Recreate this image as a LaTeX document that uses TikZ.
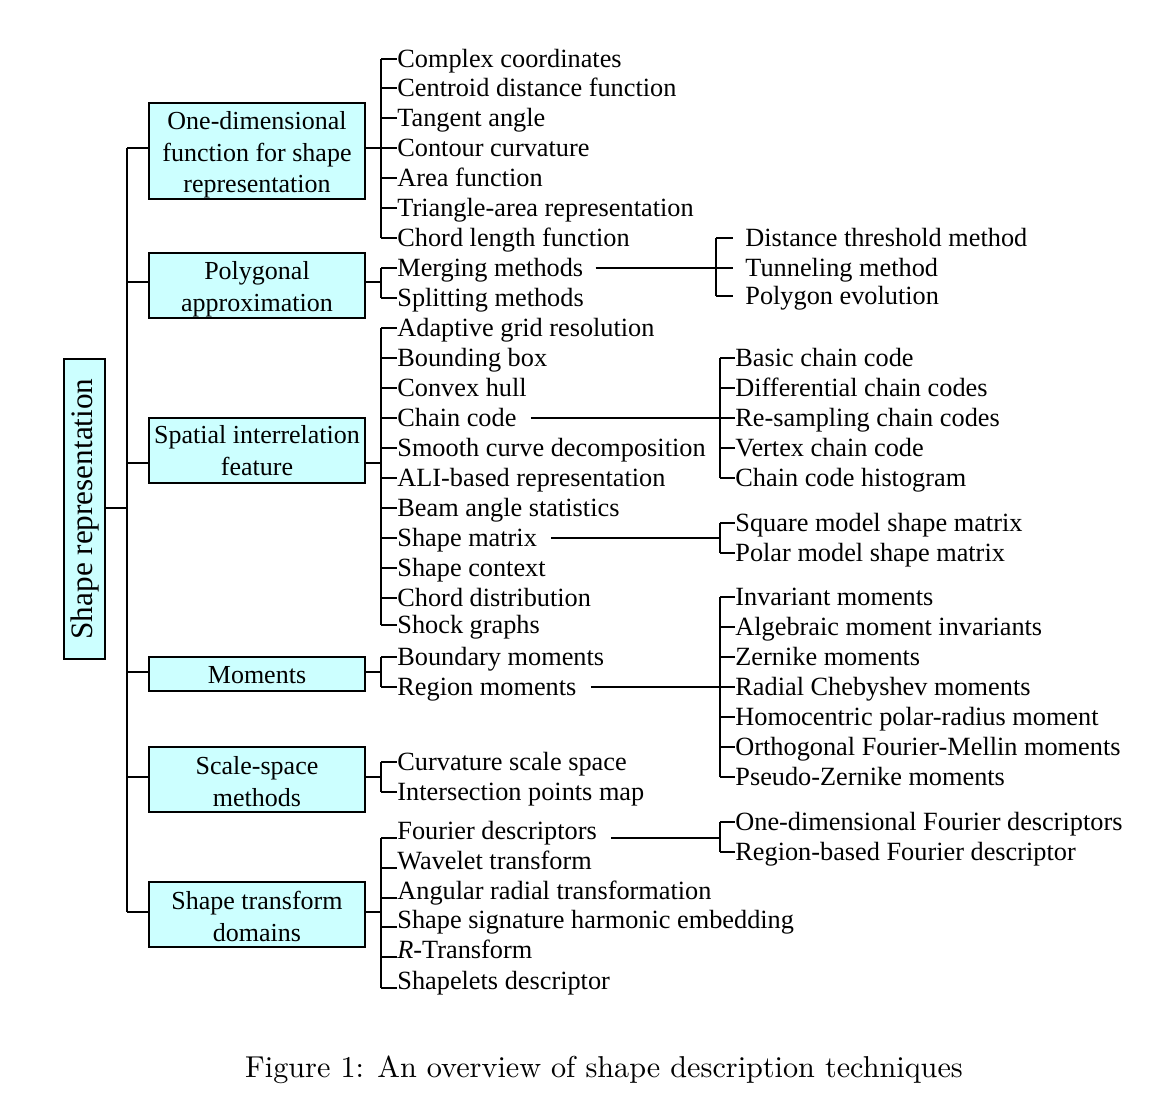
\documentclass[tikz,border=0pt]{standalone}
\usepackage{fontspec}
\newfontfamily\tnr{Liberation Serif}
\newfontfamily\capfont{lmroman10-regular.otf}
\definecolor{boxcyan}{HTML}{CCFFFF}
% invisible strut that lowers the first line of a box label
\newcommand{\toplift}[1]{\rule{0pt}{#1}}
\begin{document}
\begin{tikzpicture}[x=0.5pt,y=-0.5pt,
  wire/.style={line width=0.9pt},
  cat/.style={draw=black, line width=0.9pt, fill=boxcyan, minimum width=108pt,
    align=center, inner sep=0pt, font=\tnr\fontsize{13}{15.8}\selectfont},
  rootbox/.style={cat, rotate=90, minimum width=150pt, minimum height=20.5pt,
    font=\tnr\fontsize{15.6}{18}\selectfont},
  leaf/.style={anchor=west, inner sep=0pt, font=\tnr\fontsize{13.15}{15}\selectfont,
    text height=8.6pt, text depth=0pt},
  leafb/.style={leaf, text height=1pt},
]
\useasboundingbox (0,0) rectangle (1166,1104);

% root and first-level categories
\node[rootbox] (root) at (84.5,509) {Shape representation};
\node[cat, minimum height=48pt]   (c1) at (257,151)   {\toplift{12.9pt}One-dimensional\\function for shape\\representation};
\node[cat, minimum height=32.5pt] (c2) at (257,285.5) {\toplift{12.9pt}Polygonal\\approximation};
\node[cat, minimum height=32.5pt] (c3) at (257,450.5) {Spatial interrelation\\feature};
\node[cat, minimum height=17pt]   (c4) at (257,674)   {\toplift{9.9pt}Moments};
\node[cat, minimum height=32.5pt] (c5) at (257,779.5) {\toplift{10.9pt}Scale-space\\methods};
\node[cat, minimum height=32.5pt] (c6) at (257,914.5) {\toplift{10.9pt}Shape transform\\domains};

% trunk joints
\coordinate (jr) at (127,508);
\coordinate (j1) at (127,148);
\coordinate (j2) at (127,282);
\coordinate (j3) at (127,463);
\coordinate (j4) at (127,672);
\coordinate (j5) at (127,777);
\coordinate (j6) at (127,912);
% spine columns
\coordinate (s2) at (381,0);
\coordinate (s3p) at (716,0);
\coordinate (s3) at (720,0);

\draw[wire] (j1) -- (j6);
\draw[wire] (root.south |- jr) -- (jr);
\foreach \k in {1,...,6} {
  \draw[wire] (j\k) -- (j\k -| c\k.west);
  \draw[wire] (c\k.east |- j\k) -- (j\k -| s2);
}

% second-level techniques
\foreach \n/\y/\t in {
  a1/59/Complex coordinates, a2/88/Centroid distance function, a3/118/Tangent angle,
  a4/148/Contour curvature, a5/178/Area function, a6/208/Triangle-area representation,
  a7/238/Chord length function,
  b1/268/Merging methods, b2/298/Splitting methods,
  d1/328/Adaptive grid resolution, d2/358/Bounding box, d3/388/Convex hull,
  d4/418/Chain code, d5/448/Smooth curve decomposition, d6/478/ALI-based representation,
  d7/508/Beam angle statistics, d8/538/Shape matrix, d9/568/Shape context,
  d10/598/Chord distribution, d11/625/Shock graphs,
  e1/657/Boundary moments, e2/687/Region moments,
  f1/762/Curvature scale space, f2/792/Intersection points map}
  \node[leaf] (\n) at (397,\y) {\t};
\foreach \n/\y/\t in {
  g1/838/Fourier descriptors, g2/868/Wavelet transform, g3/898/Angular radial transformation,
  g4/927/Shape signature harmonic embedding, g5/957/{\textit{R}-Transform},
  g6/988/Shapelets descriptor}
  \node[leafb] (\n) at (397,\y) {\t};

\foreach \p/\q in {a1/a7, b1/b2, d1/d11, e1/e2, f1/f2, g1/g6}
  \draw[wire] (\p.west -| s2) -- (\q.west -| s2);
\foreach \n in {a1,a2,a3,a4,a5,a6,a7,b1,b2,d1,d2,d3,d4,d5,d6,d7,d8,d9,d10,d11,e1,e2,f1,f2,g1,g2,g3,g4,g5,g6}
  \draw[wire] (\n.west -| s2) -- (\n.west);

% third-level techniques
\foreach \n/\y/\t in {p1/238/Distance threshold method, p2/268/Tunneling method, p3/296/Polygon evolution}
  \node[leaf] (\n) at (745,\y) {\t};
\foreach \n/\y/\t in {
  h1/358/Basic chain code, h2/388/Differential chain codes, h3/418/Re-sampling chain codes,
  h4/448/Vertex chain code, h5/478/Chain code histogram,
  k1/523/Square model shape matrix, k2/553/Polar model shape matrix,
  m1/597/Invariant moments, m2/627/Algebraic moment invariants, m3/657/Zernike moments,
  m4/687/Radial Chebyshev moments, m5/717/Homocentric polar-radius moment,
  m6/747/Orthogonal Fourier-Mellin moments, m7/777/Pseudo-Zernike moments,
  q1/822/One-dimensional Fourier descriptors, q2/852/Region-based Fourier descriptor}
  \node[leaf] (\n) at (735,\y) {\t};

\draw[wire] (p1.west -| s3p) -- (p3.west -| s3p);
\foreach \n in {p1,p2,p3}
  \draw[wire] (\n.west -| s3p) -- ([xshift=-6pt]\n.west);
\draw[wire] ([xshift=6pt]b1.east) -- (b1.east -| s3p);

\foreach \p/\q in {h1/h5, k1/k2, m1/m7, q1/q2}
  \draw[wire] (\p.west -| s3) -- (\q.west -| s3);
\foreach \n in {h1,h2,h3,h4,h5,k1,k2,m1,m2,m3,m4,m5,m6,m7,q1,q2}
  \draw[wire] (\n.west -| s3) -- (\n.west);
\foreach \n in {d4,d8,e2,g1}
  \draw[wire] ([xshift=7pt]\n.east) -- (\n.east -| s3);

% caption
\node[font=\capfont\fontsize{15.1}{18}\selectfont] (cap) at (604,1070)
  {Figure 1: An overview of shape description techniques};
\end{tikzpicture}
\end{document}
